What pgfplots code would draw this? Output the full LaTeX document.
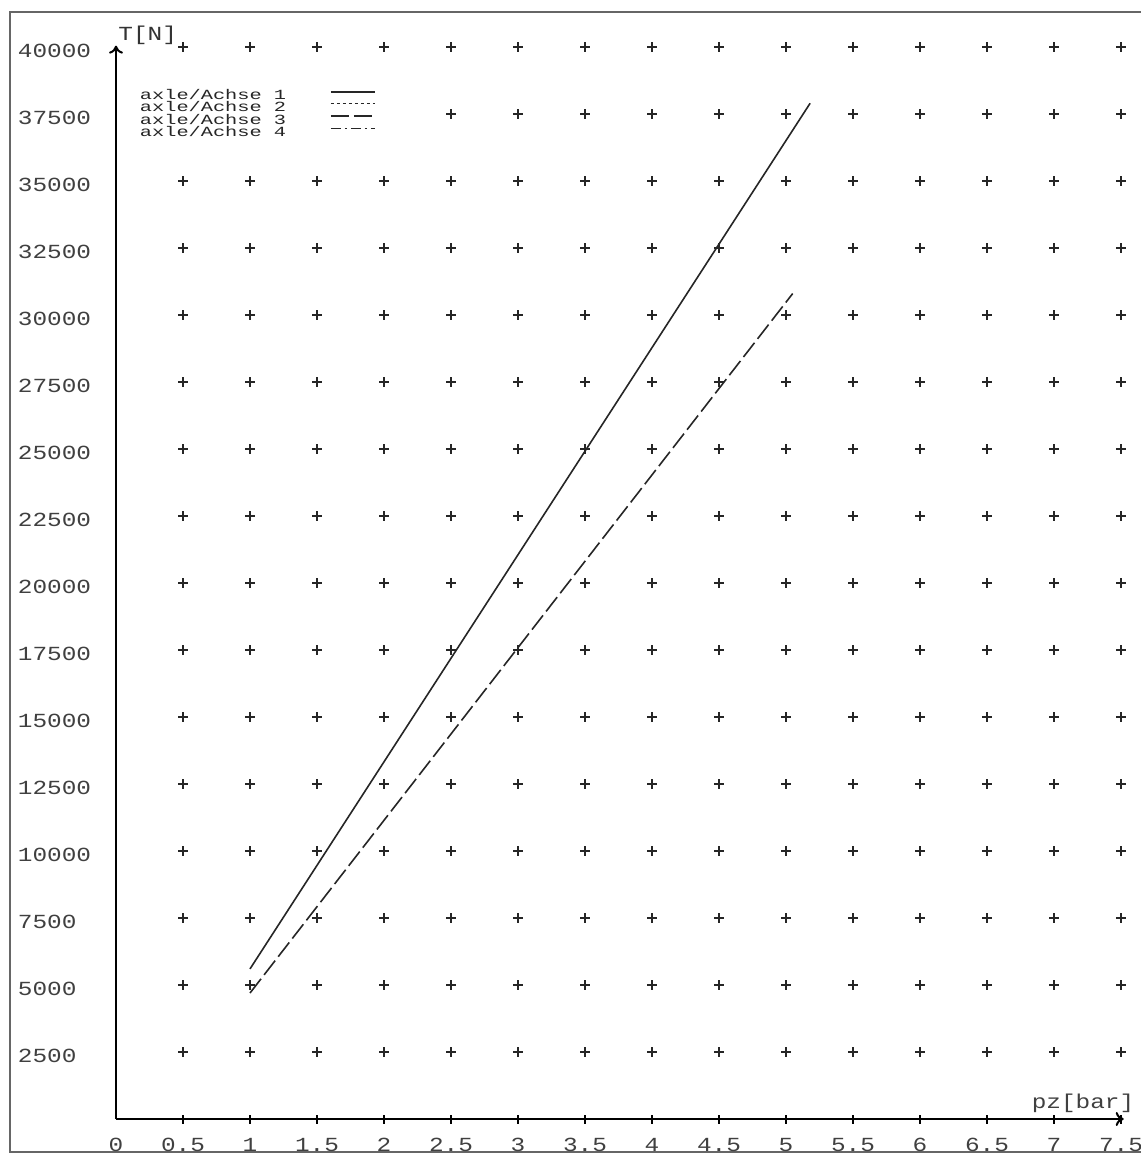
\documentclass[border=0pt]{standalone}
\usepackage{fontspec}
\setmainfont{Liberation Mono}[FakeStretch=1.22]
\newfontfamily\legfont{Liberation Mono}[FakeStretch=1.45]
\usepackage{pgfplots}
\pgfplotsset{compat=1.18}
\usetikzlibrary{arrows.meta}

\begin{document}
\begin{tikzpicture}
\useasboundingbox (-58pt,-17.5pt) rectangle (512pt,559.5pt);
\draw[black!60, line width=1pt] (-53pt,-16.5pt) rectangle (516pt,553.5pt);

% background marks (grid crosses)
\begin{axis}[
  at={(16.75pt,16.75pt)}, anchor=south west,
  x=67pt, y=0.0134pt,
  xmin=0.25, xmax=7.75, ymin=1250, ymax=41250,
  xtick={0.5,1,1.5,2,2.5,3,3.5,4,4.5,5,5.5,6,6.5,7,7.5},
  ytick={2500,5000,7500,10000,12500,15000,17500,20000,22500,25000,27500,30000,32500,35000,37500,40000},
  xticklabels={}, yticklabels={},
  axis line style={draw=none}, tick style={draw=none},
  grid=major,
  major grid style={black!85, line width=0.9pt, dash pattern=on 5pt off 28.5pt, dash phase=19.25pt},
]
\end{axis}

\begin{axis}[
  at={(0pt,0pt)}, anchor=south west,
  x=67pt, y=0.0134pt,
  xmin=0, xmax=7.52, ymin=0, ymax=40050,
  axis lines=left,
  axis line style={black, line width=1pt, -{To[length=4pt,width=7pt]}},
  xtick={0.5,1,1.5,2,2.5,3,3.5,4,4.5,5,5.5,6,6.5,7,7.5},
  extra x ticks={0}, extra x tick style={tick style={draw=none}},
  ytick={2500,5000,7500,10000,12500,15000,17500,20000,22500,25000,27500,30000,32500,35000,37500,40000},
  ytick style={draw=none},
  xtick style={black, line width=0.8pt},
  tick align=center, major tick length=4.5pt,
  scaled y ticks=false, scaled x ticks=false,
  /pgf/number format/assume math mode=true,
  /pgf/number format/1000 sep={},
  ticklabel style={text=black!75, font=\fontsize{10}{10}\selectfont},
  xticklabel style={anchor=north, yshift=-4pt},
  yticklabel style={anchor=west, inner sep=0pt, xshift=-47pt, yshift=-2pt},
  every axis x label/.style={at={(axis description cs:1,0)}, anchor=south east, inner sep=0pt, xshift=5.5pt, yshift=3pt, text=black!75, font=\fontsize{10}{10}\selectfont},
  every axis y label/.style={at={(axis description cs:0,1)}, anchor=south west, inner sep=0pt, xshift=1pt, yshift=0.5pt, text=black!80, font=\fontsize{10}{10}\selectfont},
  xlabel={pz[bar]}, ylabel={T[N]},
  legend plot pos=right,
  legend image code/.code={\draw[#1] (0pt,2pt) -- (22pt,2pt);},
  legend style={at={(axis description cs:0.0099,0.9634)}, anchor=north west, draw=none, fill=white, inner xsep=7pt, inner ysep=3pt, outer sep=0pt, row sep=1.75pt, column sep=22pt, font=\legfont\fontsize{7}{7}\selectfont, text=black!85, nodes={inner sep=0pt, text height=4pt, text depth=0pt}},
]
\addplot[black!85, line width=0.8pt] coordinates {(1,5600) (5.18,37900)};
\addlegendentry{axle/Achse 1}
\addlegendimage{black!85, line width=0.6pt, dash pattern=on 1.5pt off 1.5pt}
\addlegendentry{axle/Achse 2}
\addplot[black!85, line width=0.8pt, dash pattern=on 9pt off 2.5pt] coordinates {(1,4700) (5.05,30800)};
\addlegendentry{axle/Achse 3}
\addlegendimage{black!85, line width=0.8pt, dash pattern=on 5pt off 2pt on 1pt off 2pt}
\addlegendentry{axle/Achse 4}
\end{axis}
\end{tikzpicture}
\end{document}
